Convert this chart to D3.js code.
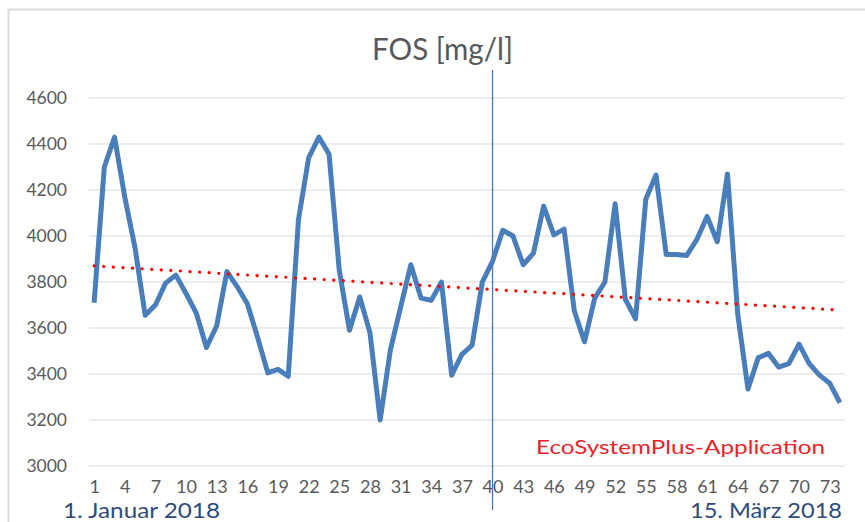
<!DOCTYPE html>
<html>
<head>
<meta charset="utf-8">
<script src="https://cdn.jsdelivr.net/npm/d3@7"></script>
<style>
  body { margin: 0; background: #fff; }
  text { font-family: Lato, "Open Sans", sans-serif; }
</style>
</head>
<body>
<svg id="chart" width="865" height="522"></svg>
<script>
// FOS values, day 1..74
const days = d3.range(1, 75);
const fos = [
  3710, 4300, 4430, 4170, 3950, 3655, 3700, 3795, 3830, 3750,
  3665, 3515, 3610, 3845, 3780, 3705, 3560, 3405, 3420, 3390,
  4070, 4340, 4430, 4355, 3850, 3590, 3735, 3580, 3200, 3505,
  3690, 3875, 3730, 3720, 3800, 3395, 3485, 3525, 3800, 3890,
  4025, 4000, 3875, 3925, 4130, 4005, 4030, 3675, 3540, 3730,
  3800, 4140, 3725, 3640, 4160, 4265, 3920, 3920, 3915, 3985,
  4085, 3975, 4270, 3660, 3335, 3470, 3490, 3430, 3445, 3530,
  3445, 3395, 3360, 3275
];
// linear trend, first and last day
const trend = [3870, 3678];
const yTicks = [3000, 3200, 3400, 3600, 3800, 4000, 4200, 4400, 4600];
const xTicks = d3.range(1, 75, 3);
const markerDay = 40;

const title = "FOS [mg/l]";
const startLabel = "1. Januar 2018";
const endLabel = "15. März 2018";
const brand = "EcoSystemPlus-Application";

const svg = d3.select("#chart");
const plotLeft = 89, plotRight = 845, plotTop = 98, plotBottom = 466;

const x = d3.scalePoint().domain(days).range([plotLeft, plotRight]).padding(0.5);
const y = d3.scaleLinear().domain([3000, 4600]).range([plotBottom, plotTop]);

// outer frame
svg.append("path")
  .attr("d", "M8.5,522 V9.5 H865")
  .attr("fill", "none")
  .attr("stroke", "#d9d9d9")
  .attr("stroke-width", 2);

// grid
svg.append("g")
  .selectAll("line")
  .data(yTicks)
  .join("line")
  .attr("x1", plotLeft).attr("x2", plotRight)
  .attr("y1", d => y(d)).attr("y2", d => y(d))
  .attr("stroke", "#d9d9d9")
  .attr("stroke-width", 1.2);

// y axis
const yAxis = d3.axisLeft(y).tickValues(yTicks).tickSize(0).tickPadding(22).tickFormat(d => d);
svg.append("g")
  .attr("transform", `translate(${plotLeft},0)`)
  .call(yAxis)
  .call(g => g.select(".domain").remove())
  .call(g => g.selectAll("text").attr("fill", "#595959").attr("font-size", 17.5).attr("font-family", "Lato"));

// x axis
const xAxis = d3.axisBottom(x).tickValues(xTicks).tickSize(0).tickPadding(14);
svg.append("g")
  .attr("transform", `translate(0,${plotBottom})`)
  .call(xAxis)
  .call(g => g.select(".domain").remove())
  .call(g => g.selectAll("text").attr("fill", "#595959").attr("font-size", 18).attr("font-family", "Lato"));

// marker line at day 40
svg.append("line")
  .attr("x1", x(markerDay)).attr("x2", x(markerDay))
  .attr("y1", 70).attr("y2", 510)
  .attr("stroke", "#4a78b8")
  .attr("stroke-width", 1.3);

// data line
svg.append("path")
  .datum(fos)
  .attr("fill", "none")
  .attr("stroke", "#4a7ebb")
  .attr("stroke-width", 5)
  .attr("stroke-linejoin", "round")
  .attr("d", d3.line().x((d, i) => x(days[i])).y(d => y(d)));

// trend line
svg.append("line")
  .attr("x1", x(days[0])).attr("y1", y(trend[0]))
  .attr("x2", x(days[days.length - 1])).attr("y2", y(trend[1]))
  .attr("stroke", "#ff0000")
  .attr("stroke-width", 3.2)
  .attr("stroke-linecap", "round")
  .attr("stroke-dasharray", "0.1 9.5");

// texts
svg.append("text")
  .attr("x", 372).attr("y", 60)
  .attr("fill", "#595959")
  .attr("font-size", 30)
  .attr("textLength", 141)
  .attr("lengthAdjust", "spacingAndGlyphs")
  .text(title);

svg.append("text")
  .attr("x", 536).attr("y", 454)
  .attr("fill", "#e8242b")
  .attr("font-size", 20)
  .attr("textLength", 289)
  .attr("lengthAdjust", "spacingAndGlyphs")
  .text(brand);

svg.append("text")
  .attr("x", 63).attr("y", 518)
  .attr("fill", "#2f4b7c")
  .attr("font-size", 21)
  .attr("textLength", 157)
  .attr("lengthAdjust", "spacingAndGlyphs")
  .text(startLabel);

svg.append("text")
  .attr("x", 690).attr("y", 518)
  .attr("fill", "#2f4b7c")
  .attr("font-size", 21)
  .attr("textLength", 152)
  .attr("lengthAdjust", "spacingAndGlyphs")
  .text(endLabel);
</script>
</body>
</html>
